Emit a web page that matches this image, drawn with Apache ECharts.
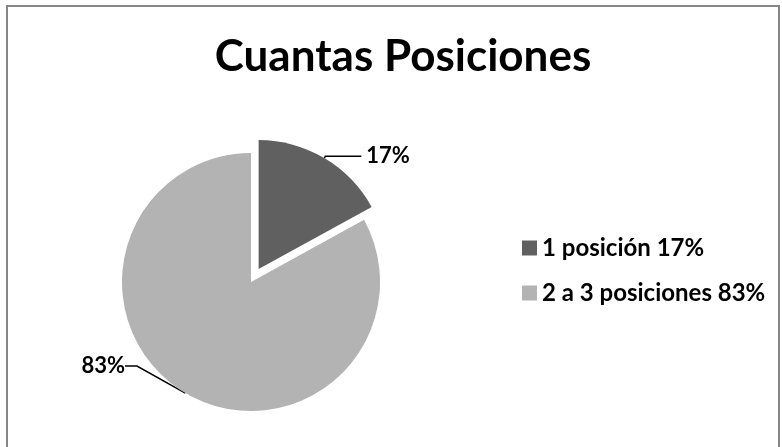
<!doctype html>
<html lang="es">

<head>
    <meta charset="utf-8" />
    <title>Cuantas Posiciones</title>
    <script type="text/javascript" src="https://cdn.jsdelivr.net/npm/echarts@6/dist/echarts.min.js"></script>
    <style>
        html, body { margin: 0; padding: 0; background: #fff; }
        #chart { width: 782px; height: 447px; }
    </style>
</head>

<body>
    <div id="chart"></div>
</body>

<script type="text/javascript">
    // datos
    let categories = ["1 posición", "2 a 3 posiciones"];
    let values = [17, 83];
    let colors = ["#606060", "#b3b3b3"];
    let title = "Cuantas Posiciones";

    let font = "Lato, 'Open Sans', sans-serif";
    let pie_data = categories.map(function (name, i) {
        let item = {
            name: name,
            value: values[i],
            selected: i == 0,
            itemStyle: { color: colors[i] }
        };
        if (i == 0) {
            // la porcion separada lleva su etiqueta casi horizontal
            item.labelLine = { length: 2, length2: 36 };
        }
        return item;
    });

    var chartDom = document.getElementById("chart");
    var myChart = echarts.init(chartDom, null, { renderer: "canvas" });
    var option = {
        animation: false,
        backgroundColor: "#fff",
        title: {
            text: title,
            left: 398,
            top: 30,
            textAlign: "center",
            textStyle: { fontFamily: font, fontWeight: "bold", fontSize: 44, color: "#000" }
        },
        graphic: [{
            // marco del grafico
            type: "rect",
            shape: { x: 7, y: 6, width: 772, height: 460 },
            style: { fill: null, stroke: "#868686", lineWidth: 2 },
            silent: true
        }],
        legend: {
            orient: "vertical",
            left: 517,
            top: 228,
            itemWidth: 15,
            itemHeight: 15,
            itemGap: 15,
            icon: "rect",
            data: categories,
            formatter: function (name) {
                return name + " " + values[categories.indexOf(name)] + "%";
            },
            textStyle: {
                fontFamily: font, fontWeight: "bold", fontSize: 24, color: "#000",
                lineHeight: 30
            }
        },
        series: [{
            type: "pie",
            center: [251, 282],
            radius: 129,
            startAngle: 90,
            clockwise: true,
            selectedMode: "single",
            selectedOffset: 15,
            data: pie_data,
            emphasis: { disabled: true },
            label: {
                show: true,
                formatter: "{c}%",
                fontFamily: font,
                fontWeight: "bold",
                fontSize: 22,
                color: "#000"
            },
            labelLine: {
                show: true,
                length: 6,
                length2: 12,
                lineStyle: { color: "#000", width: 1.5 }
            },
            labelLayout: function (params) {
                if (params.dataIndex == 1) {
                    return { x: 125, y: 366 };
                }
                return {};
            }
        }]
    };

    option && myChart.setOption(option);
</script>

</html>
